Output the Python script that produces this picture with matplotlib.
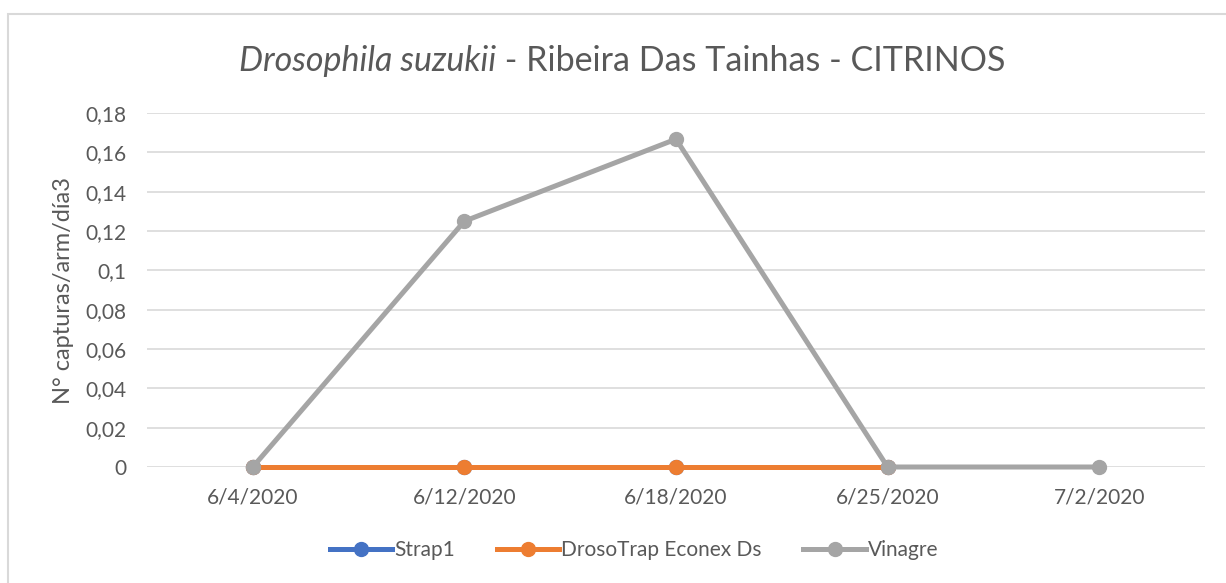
import matplotlib
matplotlib.use("Agg")
import matplotlib.pyplot as plt
from matplotlib.patches import Rectangle
from matplotlib.offsetbox import TextArea, HPacker, AnchoredOffsetbox

plt.rcParams['font.family'] = ['Lato', 'DejaVu Sans']

fechas = ["6/4/2020", "6/12/2020", "6/18/2020", "6/25/2020", "7/2/2020"]
strap1 = [0, 0, 0, 0]
drosotrap = [0, 0, 0, 0]
vinagre = [0, 0.125, 0.1667, 0, 0]
yticks = [0, 0.02, 0.04, 0.06, 0.08, 0.1, 0.12, 0.14, 0.16, 0.18]
ylabels = ["0", "0,02", "0,04", "0,06", "0,08", "0,1", "0,12", "0,14", "0,16", "0,18"]

txt = "#595959"

fig = plt.figure(figsize=(12.26, 5.83), dpi=100)
W, H = 1226, 583
ax = fig.add_axes([147 / W, (H - 467) / H, (1205 - 147) / W, (467 - 113) / H])

# borde del gráfico
fig.patches.append(Rectangle((8 / W, -0.1), 1.2, (H - 14) / H + 0.1, transform=fig.transFigure,
                             fill=False, edgecolor="#D9D9D9", linewidth=1.5))

x = list(range(len(fechas)))
ax.plot(x[:len(strap1)], strap1, color="#4472C4", lw=3.6, marker="o", ms=10, label="Strap1", clip_on=False)
ax.plot(x[:len(drosotrap)], drosotrap, color="#ED7D31", lw=3.6, marker="o", ms=10,
        label="DrosoTrap Econex Ds", clip_on=False)
ax.plot(x, vinagre, color="#A5A5A5", lw=3.6, marker="o", ms=10, label="Vinagre", clip_on=False)

ax.set_xlim(-0.5, len(fechas) - 0.5)
ax.set_ylim(0, 0.18)
ax.set_yticks(yticks)
ax.set_yticklabels(ylabels)
ax.set_xticks(x)
ax.set_xticklabels(fechas)
ax.grid(axis="y", color="#D9D9D9", lw=1.2)
ax.set_axisbelow(True)
for s in ax.spines.values():
    s.set_visible(False)
ax.tick_params(length=0, labelsize=15, colors=txt, pad=15)
ax.tick_params(axis="y", pad=15)
ax.set_ylabel("N° capturas/arm/día3", fontsize=17, color=txt, labelpad=8)

# título con parte en cursiva
ta = TextArea("Drosophila suzukii", textprops=dict(fontsize=24.5, style="italic", color=txt))
tb = TextArea(" - Ribeira Das Tainhas - CITRINOS", textprops=dict(fontsize=24.5, color=txt))
box = HPacker(children=[ta, tb], align="baseline", pad=0, sep=0)
anch = AnchoredOffsetbox(loc="center", child=box, frameon=False,
                         bbox_to_anchor=(622 / W, 1 - 61 / H), bbox_transform=fig.transFigure, borderpad=0)
fig.add_artist(anch)

leg = fig.legend(loc="center", bbox_to_anchor=(634 / W, 1 - 550 / H), ncol=3, frameon=False,
                 fontsize=15, handlelength=3.0, columnspacing=2.0, handletextpad=0.1)
for t in leg.get_texts():
    t.set_color(txt)

fig.savefig("out.png", dpi=100)
